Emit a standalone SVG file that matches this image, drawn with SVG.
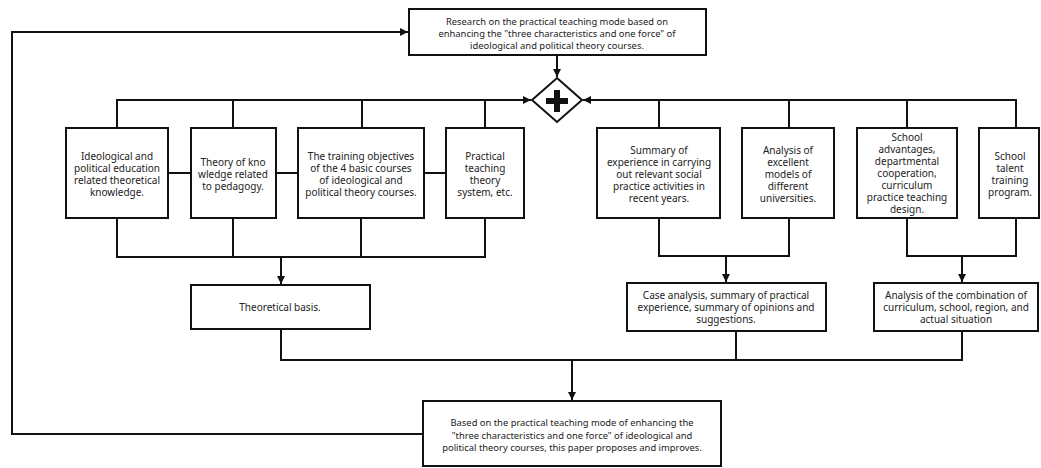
<svg xmlns="http://www.w3.org/2000/svg" width="1041" height="468" viewBox="0 0 1041 468">
<style>
.box{fill:#fff;stroke:#111;stroke-width:2}
.t{font-family:"Noto Sans","Open Sans","DejaVu Sans",sans-serif;font-size:10px;fill:#222;text-anchor:middle}
.ts{font-size:9.4px}
.c{fill:none;stroke:#111;stroke-width:2}
</style>
<defs>
<marker id="ah" viewBox="0 0 10 10" refX="10" refY="5" markerUnits="userSpaceOnUse" markerWidth="9" markerHeight="8" orient="auto">
<path d="M0,0 L10,5 L0,10 z" fill="#111"/>
</marker>
</defs>
<g id="connectors">
<path class="c" d="M557,55 V77" marker-end="url(#ah)"/>
<path class="c" d="M117,128 V100 H531" marker-end="url(#ah)"/>
<path class="c" d="M233,128 V100 M362,128 V100 M485,128 V100"/>
<path class="c" d="M1016,128 V100 H583" marker-end="url(#ah)"/>
<path class="c" d="M659,128 V100 M789,128 V100 M907,128 V100"/>
<path class="c" d="M168,173 H191 M276,173 H298 M424,173 H446"/>
<path class="c" d="M117,218 V257 H485 V218 M233,218 V257 M361,218 V257"/>
<path class="c" d="M281,257 V284" marker-end="url(#ah)"/>
<path class="c" d="M659,218 V256 H789 V218"/>
<path class="c" d="M726,256 V282" marker-end="url(#ah)"/>
<path class="c" d="M907,218 V256 H1016 V218"/>
<path class="c" d="M962,256 V282" marker-end="url(#ah)"/>
<path class="c" d="M281,329 V360 H962 V331 M736,331 V360"/>
<path class="c" d="M572,360 V400" marker-end="url(#ah)"/>
<path class="c" d="M423,434 H12 V32 H408" marker-end="url(#ah)"/>
</g>
<g id="node-top">
<rect class="box" x="409" y="9" width="297" height="46"/>
<text class="t ts" x="557" y="25">Research on the practical teaching mode based on</text>
<text class="t ts" x="557" y="37">enhancing the "three characteristics and one force" of</text>
<text class="t ts" x="557" y="49">ideological and political theory courses.</text>
</g>
<g id="node-gateway">
<path d="M557,78 L582,100 L557,122 L532,100 Z" fill="#fff" stroke="#111" stroke-width="2"/>
<path d="M554,90 H560 V98 H568 V104 H560 V112 H554 V104 H546 V98 H554 Z" fill="#111"/>
</g>
<g id="node-1">
<rect class="box" x="66" y="128" width="102" height="90"/>
<text class="t" x="117" y="160">Ideological and</text>
<text class="t" x="117" y="172">political education</text>
<text class="t" x="117" y="184">related theoretical</text>
<text class="t" x="117" y="196">knowledge.</text>
</g>
<g id="node-2">
<rect class="box" x="191" y="128" width="85" height="90"/>
<text class="t" x="233" y="166">Theory of kno</text>
<text class="t" x="233" y="178">wledge related</text>
<text class="t" x="233" y="190">to pedagogy.</text>
</g>
<g id="node-3">
<rect class="box" x="298" y="128" width="126" height="90"/>
<text class="t" x="361" y="160">The training objectives</text>
<text class="t" x="361" y="172">of the 4 basic courses</text>
<text class="t" x="361" y="184">of ideological and</text>
<text class="t" x="361" y="196">political theory courses.</text>
</g>
<g id="node-4">
<rect class="box" x="446" y="128" width="78" height="90"/>
<text class="t" x="485" y="160">Practical</text>
<text class="t" x="485" y="172">teaching</text>
<text class="t" x="485" y="184">theory</text>
<text class="t" x="485" y="196">system, etc.</text>
</g>
<g id="node-5">
<rect class="box" x="597" y="128" width="123" height="90"/>
<text class="t" x="659" y="154">Summary of</text>
<text class="t" x="659" y="166">experience in carrying</text>
<text class="t" x="659" y="178">out relevant social</text>
<text class="t" x="659" y="190">practice activities in</text>
<text class="t" x="659" y="202">recent years.</text>
</g>
<g id="node-6">
<rect class="box" x="742" y="128" width="92" height="90"/>
<text class="t" x="788" y="154">Analysis of</text>
<text class="t" x="788" y="166">excellent</text>
<text class="t" x="788" y="178">models of</text>
<text class="t" x="788" y="190">different</text>
<text class="t" x="788" y="202">universities.</text>
</g>
<g id="node-7">
<rect class="box" x="857" y="128" width="100" height="90"/>
<text class="t" x="907" y="141">School</text>
<text class="t" x="907" y="153">advantages,</text>
<text class="t" x="907" y="165">departmental</text>
<text class="t" x="907" y="177">cooperation,</text>
<text class="t" x="907" y="189">curriculum</text>
<text class="t" x="907" y="201">practice teaching</text>
<text class="t" x="907" y="213">design.</text>
</g>
<g id="node-8">
<rect class="box" x="979" y="128" width="60" height="90"/>
<text class="t" x="1010" y="160">School</text>
<text class="t" x="1010" y="172">talent</text>
<text class="t" x="1010" y="184">training</text>
<text class="t" x="1010" y="196">program.</text>
</g>
<g id="node-theory">
<rect class="box" x="191" y="285" width="179" height="44"/>
<text class="t" x="280" y="311">Theoretical basis.</text>
</g>
<g id="node-case">
<rect class="box" x="627" y="283" width="199" height="48"/>
<text class="t" x="726" y="299">Case analysis, summary of practical</text>
<text class="t" x="726" y="311">experience, summary of opinions and</text>
<text class="t" x="726" y="323">suggestions.</text>
</g>
<g id="node-combo">
<rect class="box" x="874" y="283" width="164" height="48"/>
<text class="t" x="956" y="299">Analysis of the combination of</text>
<text class="t" x="956" y="311">curriculum, school, region, and</text>
<text class="t" x="956" y="323">actual situation</text>
</g>
<g id="node-bottom">
<rect class="box" x="423" y="401" width="298" height="65"/>
<text class="t ts" x="572" y="426">Based on the practical teaching mode of enhancing the</text>
<text class="t ts" x="572" y="439">"three characteristics and one force" of ideological and</text>
<text class="t ts" x="572" y="451">political  theory courses, this paper proposes and improves.</text>
</g>
</svg>
